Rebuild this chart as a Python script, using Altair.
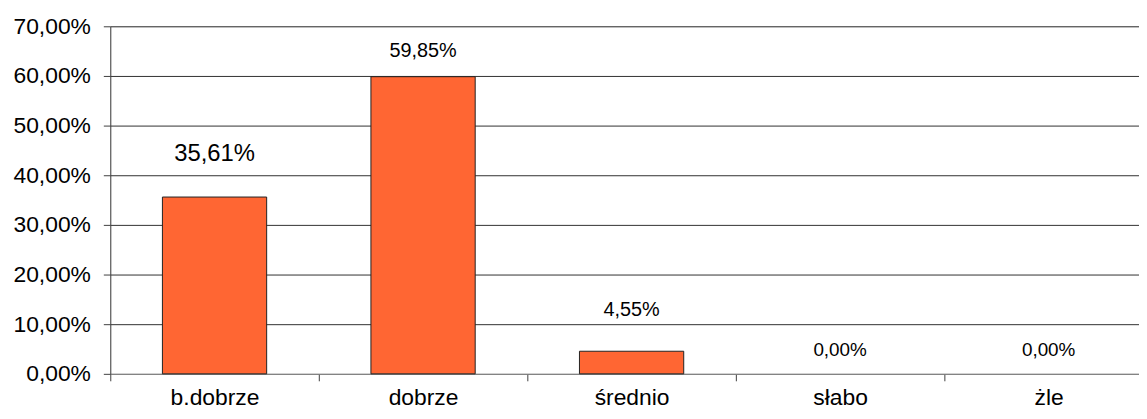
import altair as alt
import pandas as pd

categories = ["b.dobrze", "dobrze", "średnio", "słabo", "żle"]
values = [0.3561, 0.5985, 0.0455, 0.0, 0.0]
y_ticks = [0.0, 0.1, 0.2, 0.3, 0.4, 0.5, 0.6, 0.7]

df = pd.DataFrame({"cat": categories, "val": values})

FONT = "Liberation Sans"

# label styling per category (font size, vertical offset in px)
label_style = {
    "b.dobrze": (24, -36),
    "dobrze": (20, -20),
    "średnio": (20, -35),
    "słabo": (19, -18),
    "żle": (19, -18),
}

x_enc = alt.X(
    "cat:N",
    sort=categories,
    scale=alt.Scale(range=[0, 1050], paddingInner=0, paddingOuter=0),
    axis=alt.Axis(
        title=None,
        labelAngle=0,
        tickBand="extent",
        domain=True,
        domainColor="#808080",
        ticks=True,
        tickSize=7,
        tickColor="#404040",
        labelFont=FONT,
        labelFontSize=23,
        labelColor="black",
        labelPadding=6,
        grid=False,
    ),
)

y_enc = alt.Y(
    "val:Q",
    scale=alt.Scale(domain=[0, 0.7], nice=False, zero=True),
    axis=alt.Axis(
        title=None,
        values=y_ticks,
        labelExpr="replace(format(datum.value, '.2%'), '.', ',')",
        labelFont=FONT,
        labelFontSize=23,
        labelColor="black",
        labelPadding=13,
        tickSize=7,
        tickColor="#404040",
        domainColor="#404040",
        grid=True,
        gridColor={"condition": {"test": "datum.value === 0", "value": "#808080"}, "value": "#303030"},
        gridOpacity=1,
    ),
)

bars = (
    alt.Chart(df)
    .transform_filter(alt.datum.val > 0)
    .mark_bar(color="#FF6633", stroke="#222222", strokeWidth=1, width=alt.RelativeBandSize(0.5))
    .encode(x=x_enc, y=y_enc)
)

layers = [bars]
for c in categories:
    fs, dy = label_style[c]
    t = (
        alt.Chart(df)
        .transform_filter(alt.datum.cat == c)
        .transform_calculate(label="replace(format(datum.val, '.2%'), '.', ',')")
        .mark_text(font=FONT, fontSize=fs, dy=dy, baseline="alphabetic", align="center", color="black")
        .encode(x=alt.X("cat:N", sort=categories), y=alt.Y("val:Q"), text="label:N")
    )
    layers.append(t)

chart = (
    alt.layer(*layers)
    .properties(
        width=1036,
        height=350,
        autosize=alt.AutoSizeParams(type="none"),
        padding={"left": 103, "top": 17, "right": 0, "bottom": 36},
    )
    .configure_view(stroke=None)
    .configure(background="white")
)

chart.save("out.html", embed_options={"renderer": "svg", "actions": False})
